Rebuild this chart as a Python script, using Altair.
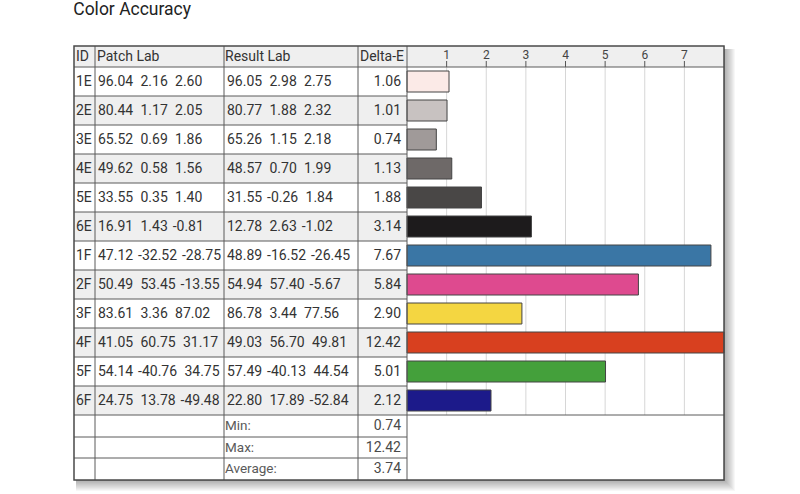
import altair as alt
import pandas as pd

# ---- measurements ----
ids = ["1E", "2E", "3E", "4E", "5E", "6E", "1F", "2F", "3F", "4F", "5F", "6F"]
patch_L = [96.04, 80.44, 65.52, 49.62, 33.55, 16.91, 47.12, 50.49, 83.61, 41.05, 54.14, 24.75]
patch_a = [2.16, 1.17, 0.69, 0.58, 0.35, 1.43, -32.52, 53.45, 3.36, 60.75, -40.76, 13.78]
patch_b = [2.60, 2.05, 1.86, 1.56, 1.40, -0.81, -28.75, -13.55, 87.02, 31.17, 34.75, -49.48]
result_L = [96.05, 80.77, 65.26, 48.57, 31.55, 12.78, 48.89, 54.94, 86.78, 49.03, 57.49, 22.80]
result_a = [2.98, 1.88, 1.15, 0.70, -0.26, 2.63, -16.52, 57.40, 3.44, 56.70, -40.13, 17.89]
result_b = [2.75, 2.32, 2.18, 1.99, 1.84, -1.02, -26.45, -5.67, 77.56, 49.81, 44.54, -52.84]
delta_e = [1.06, 1.01, 0.74, 1.13, 1.88, 3.14, 7.67, 5.84, 2.90, 12.42, 5.01, 2.12]
patch_colors = ["#fbeae7", "#c8c2c1", "#a09a99", "#6e6968", "#494746", "#1d1b1c",
                "#3a76a5", "#de4a8f", "#f4d641", "#d8401f", "#44a03b", "#1c1a8a"]
summary_labels = ["Min:", "Max:", "Average:"]
summary_values = [0.74, 12.42, 3.74]
axis_ticks = [1, 2, 3, 4, 5, 6, 7]
header_labels = ["ID", "Patch Lab", "Result Lab", "Delta-E"]

# ---- table geometry (pixel units of the table's own scale) ----
W, H = 650, 434
COL = [0, 21, 150, 284, 333, 650]          # column edges
HEAD_H, ROW_H = 21, 29
SUM_EDGES = [369, 391, 412, 434]
FONT = "Roboto"
INK = "#333333"
LINE = "#5a5a5a"
FS = 14

px_x = alt.Scale(domain=[0, W], range=[0, W])
px_y = alt.Scale(domain=[0, H], range=[0, H])
de_x = alt.Scale(domain=[0, 8], range=[COL[4], COL[5]], clamp=True)


def X(field, scale=px_x):
    return alt.X(f"{field}:Q", scale=scale, axis=None)


def Y(field):
    return alt.Y(f"{field}:Q", scale=px_y, axis=None)


def row_top(i):
    return HEAD_H + ROW_H * i


def fmt(vals):
    # L a b triple; non-negative components get a narrow pad where a minus sign would sit
    out = f"{vals[0]:.2f}"
    for v in vals[1:]:
        out += " " + ("\u200a" if v < 0 else "\u2008") + f"{v:.2f}"
    return out


n = len(ids)

# drop shadow, built from stacked translucent rects
shadow = pd.DataFrame([{"x0": 2, "x1": W + k, "y0": 3, "y1": H + k} for k in range(1, 12)])
shadow_layer = alt.Chart(shadow).mark_rect(fill="#000000", opacity=0.032).encode(
    x=X("x0"), x2="x1", y=Y("y0"), y2="y1")

bg = pd.DataFrame([{"x0": 0, "x1": W, "y0": 0, "y1": H}])
bg_layer = alt.Chart(bg).mark_rect(fill="#ffffff").encode(
    x=X("x0"), x2="x1", y=Y("y0"), y2="y1")

# shaded cells: header band and alternating data rows
shade = [{"x0": 0, "x1": W, "y0": 0, "y1": HEAD_H}]
for i in range(n):
    if i % 2 == 1:
        shade.append({"x0": 0, "x1": COL[4], "y0": row_top(i), "y1": row_top(i + 1)})
shade_layer = alt.Chart(pd.DataFrame(shade)).mark_rect(fill="#efefef").encode(
    x=X("x0"), x2="x1", y=Y("y0"), y2="y1")

# vertical gridlines and header ticks of the Delta-E scale
grid = pd.DataFrame({"t": axis_ticks, "y0": HEAD_H, "y1": row_top(n)})
grid_layer = alt.Chart(grid).mark_rule(color="#d6d6d6", strokeWidth=1).encode(
    x=X("t", de_x), y=Y("y0"), y2="y1")
tick_df = pd.DataFrame({"t": axis_ticks, "y0": 15, "y1": HEAD_H})
tick_layer = alt.Chart(tick_df).mark_rule(color="#555555", strokeWidth=1).encode(
    x=X("t", de_x), y=Y("y0"), y2="y1")
tick_lab = pd.DataFrame({"t": axis_ticks, "y": 8.5, "label": [str(t) for t in axis_ticks]})
tick_lab_layer = alt.Chart(tick_lab).mark_text(
    font=FONT, fontSize=12, color="#444444", baseline="middle", align="center").encode(
    x=X("t", de_x), y=Y("y"), text="label:N")

# bars
bars = pd.DataFrame({
    "id": ids, "de": delta_e, "zero": 0, "color": patch_colors,
    "y0": [row_top(i) + 4 for i in range(n)],
    "y1": [row_top(i + 1) - 4 for i in range(n)],
})
bar_layer = alt.Chart(bars).mark_rect(stroke="#444444", strokeWidth=1).encode(
    x=X("zero", de_x), x2="de", y=Y("y0"), y2="y1",
    color=alt.Color("color:N", scale=None))

# table rules
lines = []
for y in [row_top(i) for i in range(n + 1)] + SUM_EDGES[1:3]:
    lines.append({"x0": 0, "x1": COL[4], "y0": y, "y1": y})
for y in [HEAD_H, row_top(n)]:
    lines.append({"x0": COL[4], "x1": W, "y0": y, "y1": y})
for x in COL[1:5]:
    lines.append({"x0": x, "x1": x, "y0": 0, "y1": H})
line_layer = alt.Chart(pd.DataFrame(lines)).mark_rule(color=LINE, strokeWidth=1).encode(
    x=X("x0"), x2="x1", y=Y("y0"), y2="y1")
border_layer = alt.Chart(bg).mark_rect(fill="#ffffff", fillOpacity=0, stroke="#4a4a4a",
                                       strokeWidth=1.5).encode(
    x=X("x0"), x2="x1", y=Y("y0"), y2="y1")

# left-aligned texts
left = [{"x": xx, "y": HEAD_H / 2, "t": lab, "c": INK, "s": FS}
        for xx, lab in zip([2, 23, 151, 286], header_labels)]
for i in range(n):
    yc = row_top(i) + ROW_H / 2
    left.append({"x": 2, "y": yc, "t": ids[i], "c": INK, "s": FS})
    left.append({"x": 24, "y": yc, "t": fmt([patch_L[i], patch_a[i], patch_b[i]]), "c": INK, "s": FS})
    left.append({"x": 153, "y": yc, "t": fmt([result_L[i], result_a[i], result_b[i]]), "c": INK, "s": FS})
for k, lab in enumerate(summary_labels):
    yc = (SUM_EDGES[k] + SUM_EDGES[k + 1]) / 2
    left.append({"x": 151, "y": yc, "t": lab, "c": "#5a5a5a", "s": 13.5})
left_layer = alt.Chart(pd.DataFrame(left)).mark_text(
    font=FONT, align="left", baseline="middle").encode(
    x=X("x"), y=Y("y"), text="t:N",
    color=alt.Color("c:N", scale=None), size=alt.Size("s:Q", scale=None))

# right-aligned Delta-E values
right = [{"x": 327, "y": row_top(i) + ROW_H / 2, "t": f"{delta_e[i]:.2f}", "c": INK}
         for i in range(n)]
for k, v in enumerate(summary_values):
    right.append({"x": 327, "y": (SUM_EDGES[k] + SUM_EDGES[k + 1]) / 2,
                  "t": f"{v:.2f}", "c": "#4a4a4a"})
right_layer = alt.Chart(pd.DataFrame(right)).mark_text(
    font=FONT, fontSize=FS, align="right", baseline="middle").encode(
    x=X("x"), y=Y("y"), text="t:N", color=alt.Color("c:N", scale=None))

chart = alt.layer(
    shadow_layer, bg_layer, shade_layer, grid_layer, tick_layer, bar_layer,
    line_layer, border_layer, left_layer, right_layer, tick_lab_layer,
).resolve_scale(x="independent").properties(
    width=W, height=H,
    title=alt.TitleParams("Color Accuracy", anchor="start", fontSize=17.5, font=FONT,
                          fontWeight="normal", color="#222222", offset=27),
    autosize=alt.AutoSizeParams(type="none"),
    padding={"left": 74, "top": 46, "right": 76, "bottom": 14},
).configure_view(stroke=None).configure(background="#ffffff")

chart.save("out.html", embed_options={"renderer": "svg", "actions": False})
